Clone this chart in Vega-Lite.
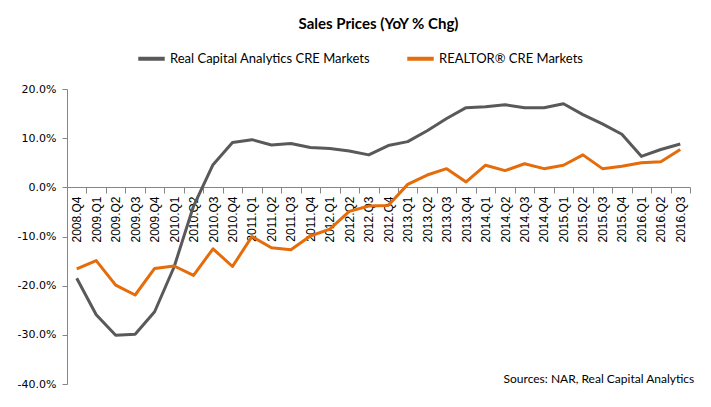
{
  "$schema": "https://vega.github.io/schema/vega-lite/v6.json",
  "width": 623,
  "height": 295,
  "autosize": {"type": "none"},
  "padding": {"left": 67, "top": 89, "right": 21, "bottom": 23},
  "background": "white",
  "title": {"text": "Sales Prices (YoY % Chg)", "font": "Lato", "fontSize": 15, "fontWeight": "bold", "color": "#000000", "offset": 11},
  "datasets": {
    "prices": [
      {"q": "2008.Q4", "s": "Real Capital Analytics CRE Markets", "v": -18.5},
      {"q": "2009.Q1", "s": "Real Capital Analytics CRE Markets", "v": -25.9},
      {"q": "2009.Q2", "s": "Real Capital Analytics CRE Markets", "v": -30.1},
      {"q": "2009.Q3", "s": "Real Capital Analytics CRE Markets", "v": -29.9},
      {"q": "2009.Q4", "s": "Real Capital Analytics CRE Markets", "v": -25.3},
      {"q": "2010.Q1", "s": "Real Capital Analytics CRE Markets", "v": -16.2},
      {"q": "2010.Q2", "s": "Real Capital Analytics CRE Markets", "v": -3.8},
      {"q": "2010.Q3", "s": "Real Capital Analytics CRE Markets", "v": 4.6},
      {"q": "2010.Q4", "s": "Real Capital Analytics CRE Markets", "v": 9.1},
      {"q": "2011.Q1", "s": "Real Capital Analytics CRE Markets", "v": 9.7},
      {"q": "2011.Q2", "s": "Real Capital Analytics CRE Markets", "v": 8.6},
      {"q": "2011.Q3", "s": "Real Capital Analytics CRE Markets", "v": 8.9},
      {"q": "2011.Q4", "s": "Real Capital Analytics CRE Markets", "v": 8.1},
      {"q": "2012.Q1", "s": "Real Capital Analytics CRE Markets", "v": 7.9},
      {"q": "2012.Q2", "s": "Real Capital Analytics CRE Markets", "v": 7.4},
      {"q": "2012.Q3", "s": "Real Capital Analytics CRE Markets", "v": 6.6},
      {"q": "2012.Q4", "s": "Real Capital Analytics CRE Markets", "v": 8.5},
      {"q": "2013.Q1", "s": "Real Capital Analytics CRE Markets", "v": 9.3},
      {"q": "2013.Q2", "s": "Real Capital Analytics CRE Markets", "v": 11.5},
      {"q": "2013.Q3", "s": "Real Capital Analytics CRE Markets", "v": 14.0},
      {"q": "2013.Q4", "s": "Real Capital Analytics CRE Markets", "v": 16.2},
      {"q": "2014.Q1", "s": "Real Capital Analytics CRE Markets", "v": 16.4},
      {"q": "2014.Q2", "s": "Real Capital Analytics CRE Markets", "v": 16.8},
      {"q": "2014.Q3", "s": "Real Capital Analytics CRE Markets", "v": 16.2},
      {"q": "2014.Q4", "s": "Real Capital Analytics CRE Markets", "v": 16.2},
      {"q": "2015.Q1", "s": "Real Capital Analytics CRE Markets", "v": 17.0},
      {"q": "2015.Q2", "s": "Real Capital Analytics CRE Markets", "v": 14.8},
      {"q": "2015.Q3", "s": "Real Capital Analytics CRE Markets", "v": 12.9},
      {"q": "2015.Q4", "s": "Real Capital Analytics CRE Markets", "v": 10.8},
      {"q": "2016.Q1", "s": "Real Capital Analytics CRE Markets", "v": 6.3},
      {"q": "2016.Q2", "s": "Real Capital Analytics CRE Markets", "v": 7.7},
      {"q": "2016.Q3", "s": "Real Capital Analytics CRE Markets", "v": 8.8},
      {"q": "2008.Q4", "s": "REALTOR® CRE Markets", "v": -16.6},
      {"q": "2009.Q1", "s": "REALTOR® CRE Markets", "v": -14.9},
      {"q": "2009.Q2", "s": "REALTOR® CRE Markets", "v": -19.9},
      {"q": "2009.Q3", "s": "REALTOR® CRE Markets", "v": -21.9},
      {"q": "2009.Q4", "s": "REALTOR® CRE Markets", "v": -16.5},
      {"q": "2010.Q1", "s": "REALTOR® CRE Markets", "v": -16.0},
      {"q": "2010.Q2", "s": "REALTOR® CRE Markets", "v": -17.9},
      {"q": "2010.Q3", "s": "REALTOR® CRE Markets", "v": -12.5},
      {"q": "2010.Q4", "s": "REALTOR® CRE Markets", "v": -16.1},
      {"q": "2011.Q1", "s": "REALTOR® CRE Markets", "v": -10.0},
      {"q": "2011.Q2", "s": "REALTOR® CRE Markets", "v": -12.3},
      {"q": "2011.Q3", "s": "REALTOR® CRE Markets", "v": -12.7},
      {"q": "2011.Q4", "s": "REALTOR® CRE Markets", "v": -9.9},
      {"q": "2012.Q1", "s": "REALTOR® CRE Markets", "v": -8.5},
      {"q": "2012.Q2", "s": "REALTOR® CRE Markets", "v": -4.9},
      {"q": "2012.Q3", "s": "REALTOR® CRE Markets", "v": -3.8},
      {"q": "2012.Q4", "s": "REALTOR® CRE Markets", "v": -3.7},
      {"q": "2013.Q1", "s": "REALTOR® CRE Markets", "v": 0.6},
      {"q": "2013.Q2", "s": "REALTOR® CRE Markets", "v": 2.5},
      {"q": "2013.Q3", "s": "REALTOR® CRE Markets", "v": 3.8},
      {"q": "2013.Q4", "s": "REALTOR® CRE Markets", "v": 1.1},
      {"q": "2014.Q1", "s": "REALTOR® CRE Markets", "v": 4.5},
      {"q": "2014.Q2", "s": "REALTOR® CRE Markets", "v": 3.4},
      {"q": "2014.Q3", "s": "REALTOR® CRE Markets", "v": 4.8},
      {"q": "2014.Q4", "s": "REALTOR® CRE Markets", "v": 3.8},
      {"q": "2015.Q1", "s": "REALTOR® CRE Markets", "v": 4.5},
      {"q": "2015.Q2", "s": "REALTOR® CRE Markets", "v": 6.6},
      {"q": "2015.Q3", "s": "REALTOR® CRE Markets", "v": 3.8},
      {"q": "2015.Q4", "s": "REALTOR® CRE Markets", "v": 4.3},
      {"q": "2016.Q1", "s": "REALTOR® CRE Markets", "v": 5.0},
      {"q": "2016.Q2", "s": "REALTOR® CRE Markets", "v": 5.2},
      {"q": "2016.Q3", "s": "REALTOR® CRE Markets", "v": 7.7}
    ],
    "note": [
      {"q": "2016.Q3", "v": -38.9, "t": "Sources: NAR, Real Capital Analytics"}
    ]
  },
  "layer": [
    {
      "data": {"name": "prices"},
      "mark": {"type": "line", "strokeWidth": 3, "strokeJoin": "round"},
      "encoding": {
        "x": {
          "field": "q", "type": "nominal", "sort": null, "bandPosition": 0.5,
          "scale": {"type": "band", "paddingInner": 0, "paddingOuter": 0},
          "axis": {
            "title": null, "orient": "bottom", "offset": -197, "tickBand": "extent",
            "labelAngle": -90, "labelFont": "Liberation Sans", "labelFontSize": 12, "labelColor": "#000000",
            "labelPadding": 3, "tickSize": 6, "tickColor": "#868686", "domainColor": "#868686",
            "labelOverlap": false, "grid": false
          }
        },
        "y": {
          "field": "v", "type": "quantitative",
          "scale": {"domain": [-40, 20], "nice": false, "zero": false},
          "axis": {
            "title": null, "values": [-40, -30, -20, -10, 0, 10, 20],
            "labelExpr": "(datum.value < 0 ? '-' : '') + format(abs(datum.value), '.1f') + '%'",
            "labelFont": "DejaVu Sans", "labelFontSize": 11, "labelColor": "#000000",
            "labelPadding": 6, "tickSize": 5, "tickColor": "#868686", "domainColor": "#868686",
            "grid": false
          }
        },
        "color": {
          "field": "s", "type": "nominal",
          "scale": {"domain": ["Real Capital Analytics CRE Markets", "REALTOR® CRE Markets"], "range": ["#595959", "#E46C0A"]},
          "legend": {
            "title": null, "orient": "none", "legendX": 69, "legendY": -46, "direction": "horizontal", "symbolType": "stroke",
            "symbolStrokeWidth": 4, "symbolSize": 700, "labelFont": "Lato", "labelFontSize": 13,
            "labelColor": "#000000", "labelLimit": 0, "columnPadding": 28, "labelOffset": 3
          }
        }
      }
    },
    {
      "data": {"name": "note"},
      "mark": {"type": "text", "align": "right", "baseline": "middle", "font": "Lato", "fontSize": 12, "color": "#000000", "dx": 14},
      "encoding": {
        "x": {"field": "q", "type": "nominal", "sort": null, "bandPosition": 0.5},
        "y": {"field": "v", "type": "quantitative"},
        "text": {"field": "t"}
      }
    }
  ],
  "config": {
    "view": {"stroke": null}
  }
}
